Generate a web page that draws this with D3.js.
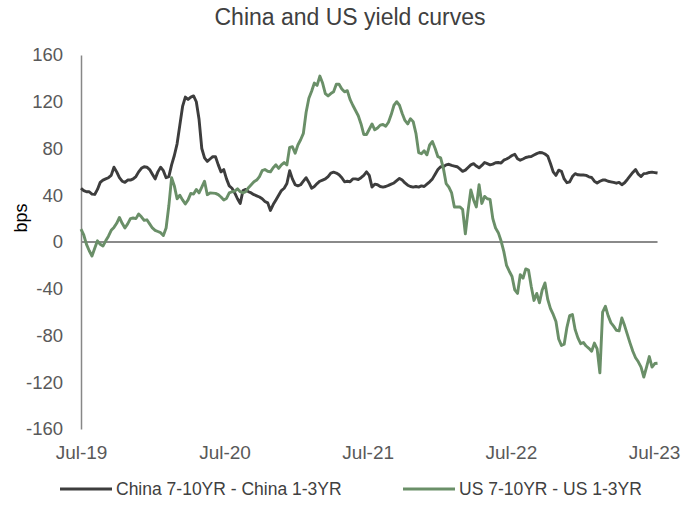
<!DOCTYPE html>
<html><head><meta charset="utf-8">
<script src="https://cdn.jsdelivr.net/npm/d3@7"></script>
<style>body{margin:0;background:#fff} svg{display:block}</style>
</head><body>
<svg id="chart" width="699" height="527"></svg>
<script>
// ---- data (weekly observations, bps) ----
const firstObservation = "2019-07-01";
const chinaSpread = [
46,44,43,43,41,40.7,45,51,53,54,55,57,64,60,55,52,51,53,53,54,
56,60,63,64.4,64,62,58,54,60,64,61,55,56,66,74,84,100,116,124,122,
124,125,120,105,80,72,69,71,73,73,66,60,62,54,48,46,42,37,33,44,
45,43,42,40.5,39.5,38.5,37,34.7,33.5,27,32,36,40,44,46,50,61,54,49,48,
49,52,55,51,46,47.5,50,52,53,54,56,59,59.7,59,57.5,55,51.5,52,51.5,54,
54,53.5,55,57,60,57,47,49.5,49,47.5,47,47.5,48.4,49.5,50.5,52.5,54.4,53,50.5,48.6,
47.5,47,47.5,47,48,47.5,49.5,51.5,54,58,62,64.4,64.4,66,66.5,65.6,65,64.4,62.5,60.5,
61.5,63.8,66,67,65,63.5,65.5,68,67,66,66.6,67.8,68,67.5,70,71,72.4,74,75,71.3,
70,71,72.3,72.9,73.2,74.4,75.6,76.6,76.4,75.3,73.5,67.2,60,57,61.5,60.5,54,50.7,51.5,56,
58.5,57.5,57.3,57.3,57,55.8,55.2,52,50.5,52,53,53,52,51.5,51,50.3,51,49,50.7,53.5,
56.5,59.5,62,58,56,58.5,58.7,59.5,59.8,59.4,59
];
const usSpread = [
11,6,-2,-7.5,-12,-5.4,1,-2,-3.5,1,5,10,12.5,16,21,16,12,15.5,20,20.5,
20,24,21.6,18.5,19,15.5,12,10,9,8,5.5,12,31,55,48,37,40,36,32.5,36,
41.6,41,45,42,47,52,40.5,42,41.8,41.6,40.5,38.5,36,37.3,42,43,43.5,45.5,43,42,
43,46.5,49,51.5,53,56,61,62,60.5,60,63.5,66,63,66,68,66,81,81.5,76,83,
87.5,93,111,123,129,136,134,142,136,127,125,127,128.5,135,135,131,128.5,129.5,122,117,
112.5,108,101,92,92,96.5,101,96,97.5,100,100.5,99,102.5,109,117,120,117,110,104,101,
105.5,103,93,76.5,75.5,78,74.6,83,86,80,73,72,63,50,47,42,30,30,30,28,
7,27,44.5,36,30,49,33,39,37,36.5,20,12,8,1,-8,-20,-25,-29.5,-41,-44,
-28,-31,-23,-24,-38,-50,-44,-52,-41,-35,-49,-57,-62,-68,-83,-88.5,-87.5,-73,-63,-62,
-75,-82,-87,-86,-89,-91,-93.5,-86.5,-91.5,-112,-60,-55,-63,-69,-72,-75.5,-76,-65,-71.5,-79,
-86.5,-93.5,-99,-102.5,-107,-115.5,-107,-98,-107,-104,-103.7
];
const seriesNames = ["China 7-10YR - China 1-3YR", "US 7-10YR - US 1-3YR"];
const seriesColors = ["#3d3d3d", "#6a8f68"];
const yTicks = [-160, -120, -80, -40, 0, 40, 80, 120, 160];
const xTickDates = ["2019-07-01", "2020-07-01", "2021-07-01", "2022-07-01", "2023-07-01"];
const xTickLabels = ["Jul-19", "Jul-20", "Jul-21", "Jul-22", "Jul-23"];
const titleText = "China and US yield curves";
const yAxisTitle = "bps";

// ---- build ----
const parse = d3.utcParse("%Y-%m-%d");
const start = parse(firstObservation);
const dates = chinaSpread.map((_, i) => d3.utcDay.offset(start, 7 * i));

const svg = d3.select("#chart");
const font = "'Liberation Sans', Arial, sans-serif";

const x = d3.scaleUtc()
  .domain([parse(xTickDates[0]), parse(xTickDates[xTickDates.length - 1])])
  .range([81, 654]);
const y = d3.scaleLinear().domain([-160, 160]).range([429, 55]);

// title
svg.append("text")
  .attr("x", 350).attr("y", 25)
  .attr("text-anchor", "middle")
  .attr("font-family", font).attr("font-size", 23)
  .attr("fill", "#404040")
  .text(titleText);

// y axis
const yAxis = d3.axisLeft(y).tickValues(yTicks).tickSize(0).tickPadding(18)
  .tickFormat(d => String(d));
const gy = svg.append("g").attr("transform", "translate(81,0)").call(yAxis);
gy.select(".domain").attr("stroke", "#878787").attr("stroke-width", 1.5);
gy.selectAll("text").attr("font-family", font).attr("font-size", 18.5).attr("fill", "#595959");

// y title
svg.append("text")
  .attr("transform", "translate(27,218) rotate(-90)")
  .attr("text-anchor", "middle")
  .attr("font-family", font).attr("font-size", 18)
  .attr("fill", "#000")
  .text(yAxisTitle);

// x axis labels
const xAxis = d3.axisBottom(x)
  .tickValues(xTickDates.map(parse))
  .tickFormat((d, i) => xTickLabels[i])
  .tickSize(0).tickPadding(0);
const gx = svg.append("g").attr("transform", `translate(0,${y(-160)})`).call(xAxis);
gx.select(".domain").remove();
gx.selectAll("text").attr("font-family", font).attr("font-size", 19).attr("fill", "#595959")
  .attr("y", 30).attr("dy", 0);

// zero line
svg.append("line")
  .attr("x1", x.range()[0]).attr("x2", x(dates[dates.length - 1]))
  .attr("y1", y(0)).attr("y2", y(0))
  .attr("stroke", "#8a8a8a").attr("stroke-width", 2);

// lines
const line = d3.line().x((d, i) => x(dates[i])).y(d => y(d));
[chinaSpread, usSpread].forEach((s, i) => {
  svg.append("path")
    .datum(s)
    .attr("d", line)
    .attr("fill", "none")
    .attr("stroke", seriesColors[i])
    .attr("stroke-width", 2.9)
    .attr("stroke-linejoin", "round");
});

// legend
const legendX = [60, 403];
seriesNames.forEach((n, i) => {
  const g = svg.append("g").attr("transform", `translate(${legendX[i]},489)`);
  g.append("line").attr("x1", 0).attr("x2", 52).attr("y1", 0).attr("y2", 0)
    .attr("stroke", seriesColors[i]).attr("stroke-width", 3);
  g.append("text").attr("x", 56).attr("y", 0).attr("dy", "0.36em")
    .attr("font-family", font).attr("font-size", 17.5).attr("fill", "#404040")
    .text(n);
});
</script>
</body></html>
